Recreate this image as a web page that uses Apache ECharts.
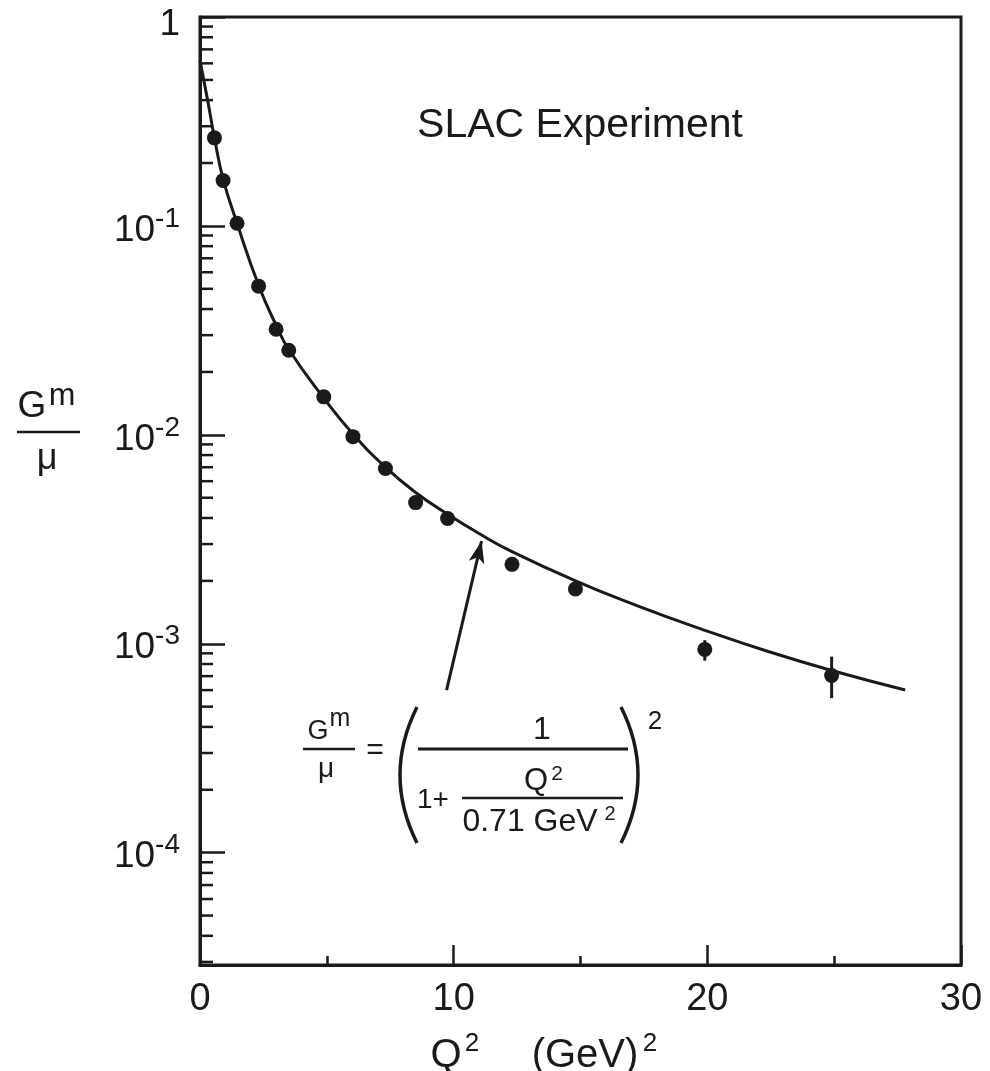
<!DOCTYPE html>
<html>
<head>
<meta charset="utf-8">
<title>SLAC Experiment - magnetic form factor</title>
<script src="https://cdn.jsdelivr.net/npm/echarts@6/dist/echarts.min.js"></script>
<style>
  html, body { margin: 0; padding: 0; background: #fff; }
  #chart { width: 990px; height: 1071px; }
</style>
</head>
<body>
<div id="chart"></div>
<script>
// measured points: Q^2 in GeV^2, Gm/mu
const pointQ2 = [0.57, 0.91, 1.46, 2.31, 3.0, 3.5, 4.88, 6.03, 7.31, 8.5, 9.76, 12.3, 14.8, 19.9, 24.9];
const pointG = [0.264, 0.165, 0.103, 0.0515, 0.032, 0.0254, 0.0152, 0.0098, 0.0069, 0.00474, 0.00398, 0.0024, 0.00183, 0.00094, 0.000705];

// error bars, only visible on the two last points
const errQ2 = [19.9, 24.9];
const errLow = [0.00083, 0.000549];
const errHigh = [0.00104, 0.000868];

// dipole fit curve
const curveQ2 = [0, 0.3, 0.57, 0.91, 1.46, 2.31, 3.0, 3.5, 4.88, 6.03, 7.31, 8.5, 9.76, 11.0, 12.3, 14.8, 17.3, 19.9, 22.4, 24.9, 27.8];
const curveG = [0.62, 0.40, 0.264, 0.168, 0.103, 0.052, 0.0335, 0.0256, 0.0150, 0.0101, 0.0070, 0.0053, 0.00417, 0.00337, 0.00276, 0.0020, 0.00151, 0.00116, 0.000918, 0.000745, 0.000601];

// arrow pointing at the curve
const arrowTail = [9.72, 0.00060];
const arrowHead = [11.1, 0.0031];

// axes
const xMin = 0, xMax = 30, xStep = 10;
const yMin = 2.9e-5, yMax = 1;
const minorMantissa = [2, 3, 4, 5, 6, 7, 8, 9];
const minorDecades = [1e-5, 1e-4, 1e-3, 1e-2, 1e-1];

const ink = '#1a1a1a';
const font = '"Liberation Sans", Arial, Helvetica, sans-serif';

let minorTicks = [];
minorDecades.forEach(d => {
  minorMantissa.forEach(m => {
    const v = m * d;
    if (v >= yMin && v <= yMax) minorTicks.push([0, v]);
  });
});

function yLabel(v) {
  const e = Math.round(Math.log10(v));
  if (Math.abs(v - Math.pow(10, e)) / Math.pow(10, e) > 1e-6) return '';
  if (e === 0) return '{one|1}';
  return '{b|10}{s|' + e + '}';
}

function txt(text, x, y, size, align) {
  return {
    type: 'text', x: x, y: y, z: 10,
    style: {
      text: text, fill: ink, font: size + 'px ' + font,
      align: align || 'center', verticalAlign: 'middle'
    }
  };
}
function hline(x1, x2, y, w) {
  return { type: 'line', z: 10, shape: { x1: x1, y1: y, x2: x2, y2: y }, style: { stroke: ink, lineWidth: w } };
}
function paren(x, cx, y1, y2) {
  return {
    type: 'bezierCurve', z: 10,
    shape: { x1: x, y1: y1, x2: x, y2: y2, cpx1: cx, cpy1: (y1 + y2) / 2 },
    style: { stroke: ink, lineWidth: 3.5, fill: null }
  };
}

const chart = echarts.init(document.getElementById('chart'));

chart.setOption({
  backgroundColor: '#fff',
  animation: false,
  grid: {
    left: 200, right: 29, top: 16, bottom: 106,
    show: true, borderColor: ink, borderWidth: 3
  },
  xAxis: {
    type: 'value', min: xMin, max: xMax, interval: xStep,
    axisLine: { show: true, lineStyle: { color: ink, width: 3 } },
    axisTick: { show: true, inside: true, length: 20, lineStyle: { color: ink, width: 2.5 } },
    minorTick: { show: true, splitNumber: 2, length: 9, lineStyle: { color: ink, width: 2.5 } },
    splitLine: { show: false },
    axisLabel: { color: ink, fontFamily: font, fontSize: 38, margin: 16 }
  },
  yAxis: {
    type: 'log', logBase: 10, min: yMin, max: yMax,
    axisLine: { show: true, lineStyle: { color: ink, width: 3 } },
    axisTick: { show: true, inside: true, length: 25, lineStyle: { color: ink, width: 2.5 } },
    splitLine: { show: false },
    axisLabel: {
      margin: 20,
      padding: [9, 0, 0, 0],
      formatter: yLabel,
      rich: {
        one: { color: ink, fontFamily: font, fontSize: 37, lineHeight: 48, padding: [6, 0, 0, 0] },
        b: { color: ink, fontFamily: font, fontSize: 37, lineHeight: 51 },
        s: { color: ink, fontFamily: font, fontSize: 28, lineHeight: 28, verticalAlign: 'top' }
      }
    }
  },
  series: [
    {
      // minor log ticks on the left axis
      type: 'scatter', silent: true, clip: false,
      symbol: 'rect', symbolSize: [13, 2.5], symbolOffset: [6.5, 0],
      itemStyle: { color: ink, opacity: 1 },
      data: minorTicks, z: 2
    },
    {
      type: 'line', smooth: 0.5, symbol: 'none', silent: true,
      lineStyle: { color: ink, width: 3 },
      data: curveQ2.map((q, i) => [q, curveG[i]]),
      markLine: {
        silent: true, symbol: ['none', 'arrow'], symbolSize: [12, 22],
        lineStyle: { color: ink, width: 3, type: 'solid' },
        label: { show: false },
        data: [[{ coord: arrowTail }, { coord: arrowHead }]]
      },
      z: 3
    },
    {
      type: 'custom', silent: true,
      renderItem: function (params, api) {
        const q = api.value(0);
        const lo = api.coord([q, api.value(1)]);
        const hi = api.coord([q, api.value(2)]);
        return {
          type: 'line',
          shape: { x1: lo[0], y1: lo[1], x2: hi[0], y2: hi[1] },
          style: { stroke: ink, lineWidth: 3 }
        };
      },
      data: errQ2.map((q, i) => [q, errLow[i], errHigh[i]]),
      z: 4
    },
    {
      type: 'scatter', symbol: 'circle', symbolSize: 15, silent: true,
      itemStyle: { color: ink, opacity: 1 },
      data: pointQ2.map((q, i) => [q, pointG[i]]),
      z: 5
    }
  ],
  graphic: [
    txt('SLAC Experiment', 580, 126, 41),
    // y axis title  Gm / mu
    txt('G', 32, 407, 37),
    txt('m', 62, 396, 32),
    hline(17, 80, 432, 2.5),
    txt('\u03bc', 47, 459, 36),
    // x axis title
    txt('Q', 446, 1056, 40),
    txt('2', 472, 1044, 26),
    txt('(GeV)', 585, 1056, 40),
    txt('2', 650, 1044, 26),
    // dipole formula
    txt('G', 318, 732, 27),
    txt('m', 340, 719, 25),
    hline(303, 355, 749, 2.5),
    txt('\u03bc', 326, 769, 28),
    txt('=', 375, 751, 30),
    paren(417, 383, 707, 843),
    hline(418, 628, 749, 3),
    txt('1', 542, 730, 32),
    txt('1+', 433, 800, 28),
    txt('Q', 536, 781, 31),
    txt('2', 557, 774, 21),
    hline(462, 623, 798, 2.5),
    txt('0.71 GeV', 530, 822, 32),
    txt('2', 610, 814, 20),
    paren(621, 655, 707, 843),
    txt('2', 655, 722, 26)
  ]
});
</script>
</body>
</html>
